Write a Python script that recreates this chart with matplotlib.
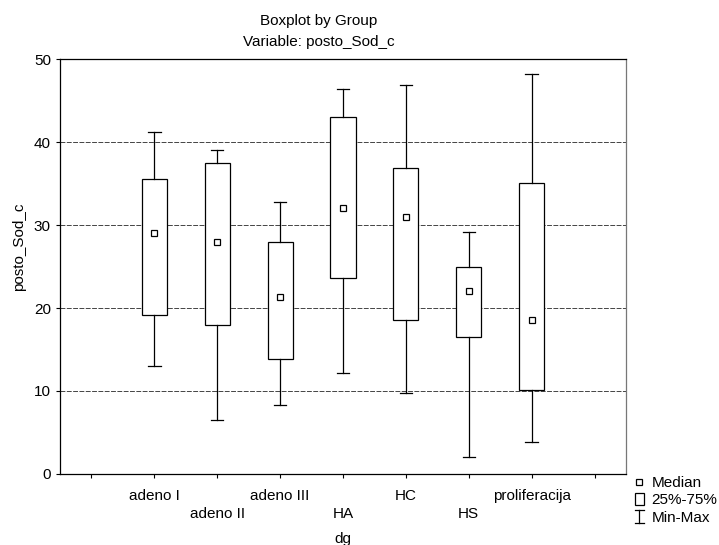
import matplotlib
matplotlib.use("Agg")
import matplotlib.pyplot as plt
from matplotlib.lines import Line2D
from matplotlib.patches import Rectangle
from matplotlib.legend_handler import HandlerBase, HandlerPatch

plt.rcParams['font.family'] = ['Liberation Sans', 'DejaVu Sans']
plt.rcParams['font.size'] = 11

# Data
groups = ["adeno I", "adeno II", "adeno III", "HA", "HC", "HS", "proliferacija"]
minimum = [13.0, 6.5, 8.3, 12.2, 9.7, 2.0, 3.9]
q1 = [19.1, 18.0, 13.9, 23.6, 18.5, 16.5, 10.1]
median = [29.0, 27.9, 21.3, 32.1, 31.0, 22.0, 18.6]
q3 = [35.6, 37.5, 28.0, 43.0, 36.9, 25.0, 35.1]
maximum = [41.2, 39.0, 32.8, 46.4, 46.9, 29.2, 48.2]


class MinMaxHandler(HandlerBase):
    # draws the "I" shaped whisker symbol
    def create_artists(self, legend, orig_handle, xdescent, ydescent,
                       width, height, fontsize, trans):
        cx = width / 2 - xdescent
        lo = -ydescent - 1
        hi = height - ydescent + 1
        w = 0.3 * fontsize
        kw = dict(color='black', lw=0.9, transform=trans)
        return [Line2D([cx, cx], [lo, hi], **kw),
                Line2D([cx - w, cx + w], [lo, lo], **kw),
                Line2D([cx - w, cx + w], [hi, hi], **kw)]


def box_patch(legend, orig_handle, xdescent, ydescent, width, height, fontsize):
    bw = 0.6 * fontsize
    bh = 0.8 * fontsize
    return Rectangle((width / 2 - xdescent - bw / 2, height / 2 - ydescent - bh / 2),
                     bw, bh)


def main():
    fig = plt.figure(figsize=(7.19, 5.45), dpi=100)
    ax = fig.add_axes([0.0834, 0.1303, 0.7873, 0.7614])

    stats = []
    for i, g in enumerate(groups):
        stats.append(dict(label=g, med=median[i], q1=q1[i], q3=q3[i],
                          whislo=minimum[i], whishi=maximum[i], fliers=[]))

    positions = list(range(len(groups)))
    ax.bxp(stats, positions=positions, widths=0.4, capwidths=0.2,
           patch_artist=True, showfliers=False, manage_ticks=False,
           boxprops=dict(facecolor='white', edgecolor='black', lw=0.9),
           whiskerprops=dict(color='black', lw=0.9),
           capprops=dict(color='black', lw=0.9),
           medianprops=dict(visible=False), zorder=3)
    ax.plot(positions, median, ls='none', marker='s', markersize=5,
            mfc='white', mec='black', mew=0.9, zorder=4)

    ax.set_xlim(-1.5, len(groups) + 0.5)
    ax.set_ylim(0, 50)
    ax.set_yticks([0, 10, 20, 30, 40, 50])
    ticks = list(range(-1, len(groups) + 1))
    labels = [""]
    for i, g in enumerate(groups):
        labels.append(g if i % 2 == 0 else "\n" + g)
    labels.append("")
    ax.set_xticks(ticks)
    ax.set_xticklabels(labels, linespacing=1.3)
    ax.tick_params(axis='x', length=3, pad=8, width=0.8)
    ax.tick_params(axis='y', length=3, pad=3.5, width=0.8)

    for y in [10, 20, 30, 40]:
        ax.axhline(y, color='#444444', lw=0.7, ls=(0, (5, 1.5)), zorder=1)

    for s in ax.spines.values():
        s.set_linewidth(0.9)
        s.set_color('black')
    ax.spines['right'].set_color('#777777')

    ax.set_xlabel("dg")
    ax.xaxis.set_label_coords(0.5, -0.139)
    ax.set_ylabel("posto_Sod_c")
    ax.yaxis.set_label_coords(-0.060, 0.547)

    # two title lines, centred a little left of the axes centre
    fig.text(319 / 719, 1 - 20.7 / 545, "Boxplot by Group", ha='center', va='center')
    fig.text(319 / 719, 1 - 41.7 / 545, "Variable: posto_Sod_c", ha='center', va='center')

    handles = [Line2D([], [], ls='none', marker='s', markersize=5,
                      mfc='white', mec='black', mew=0.9),
               Rectangle((0, 0), 1, 1, facecolor='white', edgecolor='black', lw=0.9),
               Line2D([], [])]
    names = ["Median", "25%-75%", "Min-Max"]
    fig.legend(handles, names, loc='upper left', bbox_to_anchor=(633 / 719, 1 - 476 / 545),
               frameon=False, borderpad=0, borderaxespad=0, handlelength=0.8,
               handleheight=0.7, handletextpad=0.4, labelspacing=0.22,
               handler_map={handles[1]: HandlerPatch(patch_func=box_patch),
                            handles[2]: MinMaxHandler()})

    fig.savefig("out.png", dpi=100)


if __name__ == "__main__":
    main()
